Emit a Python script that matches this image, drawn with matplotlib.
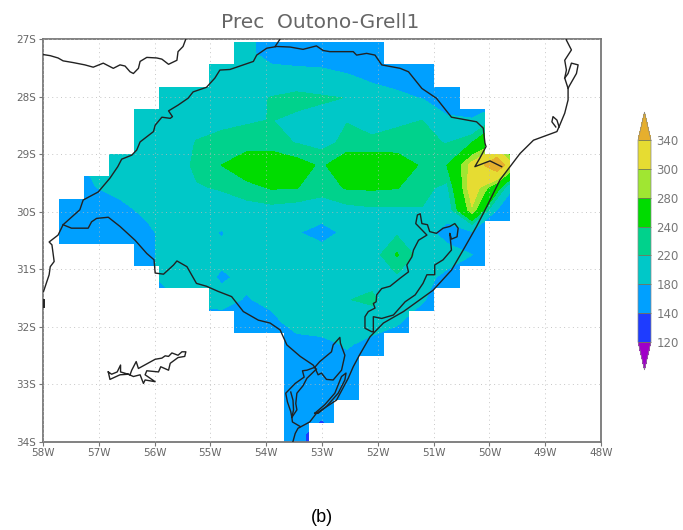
#!/usr/bin/env python3

import numpy as np
import matplotlib
matplotlib.use("Agg")
import matplotlib.pyplot as plt
from matplotlib.patches import Polygon

# contour levels and colours of the shaded precipitation
levels = [120, 140, 180, 220, 240, 280, 300, 340]
shades = ['#a000c8', '#1e3cff', '#00a0ff', '#00c8c8', '#00d28c',
          '#00dc00', '#a0e632', '#e6dc32', '#e6af2d']

# model grid: cell size and the corner of the first cell
lon0, dlon = -57.713, 0.4486
lat0, dlat = -27.052, 0.3896

# precipitation read at each grid point, north to south (19 columns)
prec = np.array([
    [190, 190, 190, 190, 190, 190, 190, 185, 170, 165, 160, 155, 155, 155, 150, 150, 150, 150, 150],
    [195, 195, 195, 195, 195, 195, 198, 200, 190, 190, 190, 182, 172, 170, 165, 160, 150, 150, 150],
    [195, 195, 195, 195, 198, 200, 203, 208, 222, 231, 224, 219, 195, 185, 179, 170, 160, 150, 150],
    [195, 195, 195, 192, 198, 205, 215, 218, 220.5, 212, 208, 219, 212, 218, 220, 183, 182, 230, 150],
    [195, 195, 192, 190, 198, 222, 226, 228, 226, 219, 212, 226, 224, 224, 224, 219, 240, 280, 270],
    [170, 190, 190, 195, 205, 225, 240, 258, 262, 250, 236, 258, 262, 258, 236, 240, 310, 372, 258],
    [165, 180, 190, 200, 212, 218, 222, 232, 242, 240.5, 230, 242, 243, 241, 226, 214, 318, 255, 140],
    [165, 165, 172, 187, 200, 205, 208, 210, 212, 208, 205, 212, 216, 216, 219, 200, 296, 178, 160],
    [165, 165, 165, 172, 195, 195, 177, 205, 205, 183, 162, 190, 198, 216, 195, 165, 175, 165, 160],
    [165, 160, 160, 172, 195, 195, 189, 195, 198, 200, 200, 200, 208, 242, 208, 195, 180, 165, 160],
    [160, 160, 160, 170, 195, 195, 175, 188, 198, 200, 200, 200, 205, 216, 190, 172, 165, 160, 160],
    [160, 160, 160, 165, 175, 190, 191, 177, 190, 198, 200, 218, 228, 190, 183, 160, 160, 160, 160],
    [160, 160, 160, 160, 160, 160, 165, 170, 170, 195, 198, 205, 195, 183, 165, 160, 160, 160, 160],
    [160, 160, 160, 160, 160, 160, 160, 160, 160, 165, 170, 183, 170, 165, 160, 160, 160, 160, 160],
    [160, 160, 160, 160, 160, 160, 160, 160, 160, 160, 160, 170, 160, 160, 160, 160, 160, 160, 160],
    [160, 160, 160, 160, 160, 160, 160, 160, 160, 160, 160, 160, 160, 160, 160, 160, 160, 160, 160],
    [160, 160, 160, 160, 160, 160, 160, 160, 160, 160, 160, 160, 160, 160, 160, 160, 160, 160, 160],
    [160, 160, 160, 160, 160, 160, 160, 160, 160, 160, 100, 160, 160, 160, 160, 160, 160, 160, 160],
])

# first and one-past-last grid column that holds data, per row
row_first = [7, 6, 4, 3, 3, 2, 1, 0, 0, 3, 4, 6, 7, 9, 9, 9, 9, 9]
row_last = [13, 15, 16, 17, 17, 18, 18, 18, 17, 17, 16, 15, 14, 13, 12, 12, 11, 10]

# map outlines, lon / lat
north_lon = [-58.00, -57.87, -57.73, -57.64, -57.46, -57.25, -57.10, -56.92, -56.74, -56.62, -56.53, -56.44,
             -56.38, -56.29, -56.26, -56.14, -55.96, -55.87, -55.75, -55.60, -55.58, -55.49, -55.44]
north_lat = [-27.27, -27.29, -27.33, -27.38, -27.41, -27.45, -27.49, -27.42, -27.51, -27.45, -27.47, -27.57,
             -27.60, -27.51, -27.39, -27.32, -27.33, -27.35, -27.44, -27.37, -27.22, -27.13, -27.00]

border_lon = [-57.99, -57.89, -57.87, -57.80, -57.84, -57.89, -57.73, -57.64, -57.34, -57.28, -57.01, -56.80,
              -56.66, -56.59, -56.41, -56.32, -56.26, -56.02, -55.99, -55.87, -55.72, -55.68, -55.75, -55.58,
              -55.40, -55.31, -55.07, -54.92, -54.83, -54.65, -54.41, -54.23, -54.17, -53.99, -53.81, -53.57,
              -53.34, -53.10, -52.98, -52.86, -52.44, -52.38, -52.20, -52.05, -51.93, -51.60, -51.45, -51.21,
              -50.95, -50.68, -50.23, -50.11, -50.08, -50.06, -50.17, -50.26, -49.99, -49.78]
border_lat = [-31.39, -31.10, -30.96, -30.87, -30.58, -30.53, -30.41, -30.23, -29.97, -29.80, -29.66, -29.42,
              -29.22, -29.09, -29.02, -28.93, -28.79, -28.61, -28.50, -28.36, -28.38, -28.35, -28.25, -28.15,
              -28.03, -27.92, -27.84, -27.68, -27.54, -27.53, -27.45, -27.39, -27.28, -27.16, -27.13, -27.14,
              -27.18, -27.12, -27.20, -27.22, -27.22, -27.28, -27.25, -27.28, -27.45, -27.51, -27.57, -27.86,
              -28.03, -28.36, -28.44, -28.55, -28.81, -28.87, -29.07, -29.22, -29.12, -29.22]

spur_lon = [-53.84, -53.75]
spur_lat = [-27.13, -27.00]

edge_lon = [-57.99, -57.99]
edge_lat = [-31.54, -31.66]

uruguay_lon = [-57.64, -57.49, -57.37, -57.19, -57.13, -57.04, -56.83, -56.62, -56.35, -56.14, -56.01, -55.99,
               -55.84, -55.66, -55.60, -55.42, -55.25, -55.07, -54.86, -54.62, -54.41, -54.14, -53.93, -53.75,
               -53.63, -53.39, -53.16, -53.13, -53.27, -53.35, -53.32, -53.48, -53.65, -53.62, -53.56, -53.54,
               -53.53, -53.39]
uruguay_lat = [-30.23, -30.29, -30.29, -30.29, -30.18, -30.12, -30.10, -30.26, -30.50, -30.73, -30.84, -31.07,
               -31.09, -30.93, -30.86, -30.96, -31.25, -31.30, -31.39, -31.48, -31.74, -31.89, -31.94, -32.06,
               -32.32, -32.52, -32.67, -32.71, -32.76, -32.77, -32.88, -32.99, -33.16, -33.31, -33.48, -33.58,
               -33.66, -33.74]

mirim_lon = [-53.13, -53.04, -52.83, -52.80, -52.68, -52.67, -52.59, -52.65, -52.80, -52.92, -53.01, -53.07, -53.13]
mirim_lat = [-32.71, -32.61, -32.44, -32.32, -32.19, -32.29, -32.50, -32.76, -32.93, -32.92, -32.81, -32.84, -32.71]

inner_lon = [-53.10, -53.27, -53.34, -53.45, -53.47, -53.45, -53.54]
inner_lat = [-32.74, -32.90, -33.03, -33.16, -33.34, -33.45, -33.58]

inner2_lon = [-53.56, -53.52, -53.51, -53.54]
inner2_lat = [-33.14, -33.28, -33.45, -33.58]

mangueira_lon = [-53.13, -52.95, -52.77, -52.65, -52.57, -52.59, -52.71, -52.92, -53.07, -53.13]
mangueira_lat = [-33.51, -33.36, -33.16, -32.87, -32.81, -32.93, -33.16, -33.39, -33.51, -33.51]

coast_lon = [-53.52, -53.48, -53.43, -53.22, -53.10, -52.74, -52.53, -52.44, -52.33, -52.14, -51.90, -51.54,
             -51.01, -50.68, -50.47, -50.23, -50.05, -49.81, -49.63, -49.45, -49.21, -48.79, -48.74, -48.65,
             -48.59, -48.59, -48.65, -48.62, -48.65, -48.53, -48.62, -48.62]
coast_lat = [-34.00, -33.86, -33.77, -33.66, -33.51, -33.28, -32.90, -32.70, -32.50, -32.18, -31.94, -31.74,
             -31.37, -31.02, -30.67, -30.26, -29.92, -29.45, -29.22, -28.99, -28.76, -28.61, -28.50, -28.29,
             -28.06, -27.86, -27.68, -27.54, -27.37, -27.19, -27.02, -27.00]

island_lon = [-48.59, -48.57, -48.44, -48.41, -48.53, -48.59, -48.65]
island_lat = [-27.86, -27.82, -27.60, -27.45, -27.42, -27.60, -27.68]

lagoon_lon = [-48.81, -48.88, -48.86, -48.79, -48.75]
lagoon_lat = [-28.53, -28.44, -28.35, -28.41, -28.53]

patos_lon = [-52.08, -52.11, -52.23, -52.23, -52.17, -52.05, -52.08, -52.03, -52.02, -51.93, -51.78, -51.60,
             -51.45, -51.48, -51.39, -51.36, -51.27, -51.12, -51.21, -51.32, -51.29, -51.24, -51.21, -51.11,
             -51.07, -50.95, -50.83, -50.71, -50.62, -50.56, -50.58, -50.68, -50.71, -50.68, -50.83, -50.98,
             -50.98, -51.12, -51.19, -51.33, -51.51, -51.72, -51.93, -52.08, -52.08, -52.08]
patos_lat = [-32.09, -32.09, -32.03, -31.83, -31.74, -31.68, -31.60, -31.57, -31.45, -31.34, -31.30, -31.16,
             -31.05, -30.93, -30.79, -30.67, -30.50, -30.41, -30.32, -30.21, -30.06, -30.04, -30.21, -30.23,
             -30.35, -30.38, -30.29, -30.26, -30.21, -30.29, -30.44, -30.48, -30.38, -30.67, -30.84, -30.93,
             -31.10, -31.10, -31.25, -31.45, -31.57, -31.80, -31.86, -31.83, -31.92, -32.09]

reservoir_lon = [-56.83, -56.80, -56.62, -56.47, -56.38, -56.26, -56.20, -56.17, -55.99, -56.17, -56.14, -55.93,
                 -55.89, -55.75, -55.72, -55.58, -55.46, -55.44, -55.51, -55.58, -55.69, -55.75, -55.81, -55.87,
                 -55.99, -56.14, -56.29, -56.33, -56.41, -56.44, -56.61, -56.61, -56.67, -56.77, -56.83]
reservoir_lat = [-32.79, -32.92, -32.84, -32.83, -32.87, -32.84, -32.99, -32.93, -32.96, -32.84, -32.77, -32.79,
                 -32.70, -32.76, -32.64, -32.54, -32.52, -32.44, -32.44, -32.50, -32.46, -32.52, -32.51, -32.55,
                 -32.57, -32.65, -32.73, -32.61, -32.76, -32.84, -32.79, -32.67, -32.79, -32.83, -32.79]

outlines = [(north_lon, north_lat), (border_lon, border_lat), (spur_lon, spur_lat),
            (uruguay_lon, uruguay_lat), (mirim_lon, mirim_lat), (inner_lon, inner_lat),
            (inner2_lon, inner2_lat), (mangueira_lon, mangueira_lat), (coast_lon, coast_lat),
            (island_lon, island_lat), (lagoon_lon, lagoon_lat), (patos_lon, patos_lat),
            (reservoir_lon, reservoir_lat)]

lon_ticks = np.arange(-58, -47)
lat_ticks = np.arange(-34, -26)
lon_labels = ['58W', '57W', '56W', '55W', '54W', '53W', '52W', '51W', '50W', '49W', '48W']
lat_labels = ['34S', '33S', '32S', '31S', '30S', '29S', '28S', '27S']

W, H = 683, 530
fig = plt.figure(figsize=(W / 100, H / 100), dpi=100)
ax = fig.add_axes([43 / W, 1 - 441.5 / H, 558 / W, 402.5 / H])

# grid point positions, with one extra row and column out to the data edge
nrow, ncol = prec.shape
lons = lon0 + dlon * (np.arange(ncol) + 0.5)
lats = lat0 - dlat * (np.arange(nrow) + 0.5)
lons = np.concatenate(([lon0], lons))
lats = np.concatenate(([lat0], lats, [lat0 - dlat * (nrow + 1)]))
field = np.pad(prec, ((1, 1), (1, 0)), mode='edge')

cs = ax.contourf(lons, lats, field, levels=levels, colors=shades, extend='both')
cs.set_edgecolor('face')
cs.set_linewidth(0.2)

# the model only has data inside a staircase shape
right = []
left = []
for j in range(nrow):
    top = lat0 - dlat * j
    bot = lat0 - dlat * (j + 1)
    right += [(lon0 + dlon * row_last[j], top), (lon0 + dlon * row_last[j], bot)]
    left += [(lon0 + dlon * row_first[j], top), (lon0 + dlon * row_first[j], bot)]
stairs = Polygon(right + left[::-1], closed=True, transform=ax.transData, fc='none', ec='none')
ax.add_patch(stairs)
cs.set_clip_path(stairs)

# dotted grid over the shading
ax.set_xlim(-58, -48)
ax.set_ylim(-34, -27)
ax.set_xticks(lon_ticks)
ax.set_xticklabels(lon_labels)
ax.set_yticks(lat_ticks)
ax.set_yticklabels(lat_labels)
ax.grid(True, color='#b8b8b8', lw=0.7, ls=(0, (1, 3.5)), alpha=0.8)
ax.set_axisbelow(False)
ax.tick_params(length=3, width=0.8, color='#777777', labelcolor='#666666', labelsize=7.5, pad=2)
for side in ax.spines.values():
    side.set_color('#777777')
    side.set_linewidth(1.3)

for xs, ys in outlines:
    ax.plot(xs, ys, color='#222222', lw=1.0, zorder=4)
ax.plot(edge_lon, edge_lat, color='#222222', lw=1.4, zorder=4)

fig.text(320.5 / W, 1 - 22 / H, 'Prec  Outono-Grell1', ha='center', va='center',
         fontsize=14.5, color='#666666')
fig.text(322 / W, 1 - 517 / H, '(b)', ha='center', va='center',
         fontsize=13, family='Liberation Sans', color='black')

# colour key, the axes box includes the triangles
cax = fig.add_axes([638 / W, 1 - 370 / H, 13 / W, 258 / H])
cbar = fig.colorbar(cs, cax=cax, ticks=levels, spacing='uniform', extend='both',
                    extendfrac=0.14, drawedges=True)
cbar.dividers.set_color('#777755')
cbar.dividers.set_linewidth(0.6)
cbar.outline.set_edgecolor('#888888')
cbar.outline.set_linewidth(0.5)
cax.tick_params(length=0, labelsize=8.5, labelcolor='#777777', pad=4)

fig.savefig('out.png', dpi=100)
